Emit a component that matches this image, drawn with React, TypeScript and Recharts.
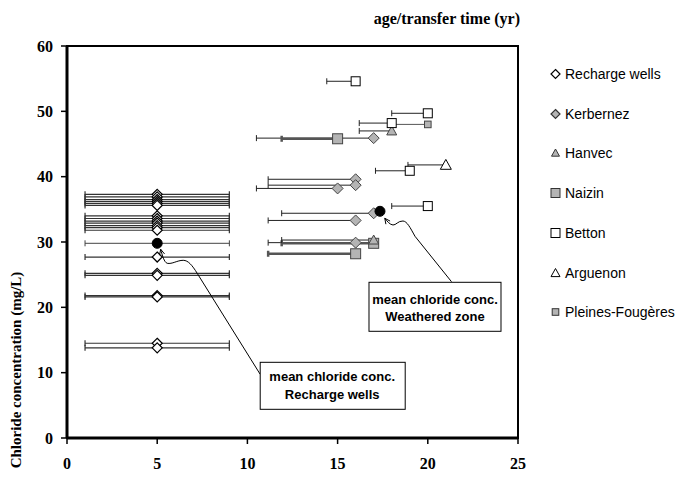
import React from "react";
import {
  ScatterChart,
  Scatter,
  XAxis,
  YAxis,
  ErrorBar,
  ReferenceArea,
  ReferenceDot,
  Label,
} from "recharts";

// values: x = age/transfer time (yr), y = chloride (mg/L)
const rechargeAge = 5;
const rechargeAgeRange = [1, 9];
const rechargeCl = [37.3, 36.9, 36.5, 36.2, 35.9, 35.6, 34.0, 33.6, 33.2, 32.9, 32.5, 32.2, 31.8, 27.7, 25.2, 24.9, 21.8, 21.6, 14.5, 13.8];

const kerbernezAge = [17, 16, 16, 15, 17, 16, 16];
const kerbernezAgeMin = [10.5, 11.15, 11.15, 10.5, 11.9, 11.15, 11.15];
const kerbernezCl = [45.9, 39.6, 38.7, 38.2, 34.4, 33.3, 29.9];

const hanvecAge = [18, 17];
const hanvecAgeMin = [16.2, 11.9];
const hanvecCl = [47.0, 30.3];

const naizinAge = [15, 17, 16];
const naizinAgeMin = [11.9, 11.9, 11.15];
const naizinCl = [45.8, 29.8, 28.2];

const bettonAge = [16, 20, 18, 19, 20];
const bettonAgeMin = [14.4, 18, 16.2, 17.1, 18];
const bettonCl = [54.6, 49.7, 48.2, 40.9, 35.5];

const arguenonAge = [21];
const arguenonAgeMin = [18.9];
const arguenonCl = [41.8];

const pleinesAge = [20];
const pleinesAgeMin = [18];
const pleinesCl = [48.0];

const rechargeMeanAge = 5;
const rechargeMeanCl = 29.8;
const weatheredMeanAge = 17.35;
const weatheredMeanCl = 34.7;

const xTicks = [0, 5, 10, 15, 20, 25];
const yTicks = [0, 10, 20, 30, 40, 50, 60];

// transfer time bars only go back from the point (one sided)
const rows = (age: number[], cl: number[], ageMin: number[]) =>
  age.map((x, i) => ({ x, y: cl[i], err: [x - ageMin[i], 0] }));

const rechargeRows = rechargeCl.map((y) => ({
  x: rechargeAge,
  y,
  err: [rechargeAge - rechargeAgeRange[0], rechargeAgeRange[1] - rechargeAge],
}));
const rechargeMeanRows = [
  {
    x: rechargeMeanAge,
    y: rechargeMeanCl,
    err: [rechargeMeanAge - rechargeAgeRange[0], rechargeAgeRange[1] - rechargeMeanAge],
  },
];
const weatheredMeanRows = [{ x: weatheredMeanAge, y: weatheredMeanCl }];

const GREY = "#b4b4b4";
const serif = "'Liberation Serif', 'Times New Roman', serif";
const sans = "'Liberation Sans', Arial, sans-serif";

const marker = (kind: string, r: number, fill: string, stroke = "#000", sw = 1) => (p: any) => {
  const { cx, cy } = p;
  if (cx == null || cy == null) return <g />;
  if (kind === "diamond")
    return (
      <path
        d={`M${cx},${cy - r}L${cx + r},${cy}L${cx},${cy + r}L${cx - r},${cy}Z`}
        fill={fill}
        stroke={stroke}
        strokeWidth={sw}
      />
    );
  if (kind === "square")
    return <rect x={cx - r} y={cy - r} width={2 * r} height={2 * r} fill={fill} stroke={stroke} strokeWidth={sw} />;
  if (kind === "triangle")
    return (
      <path
        d={`M${cx},${cy - r}L${cx + r},${cy + r * 0.8}L${cx - r},${cy + r * 0.8}Z`}
        fill={fill}
        stroke={stroke}
        strokeWidth={sw}
      />
    );
  return <circle cx={cx} cy={cy} r={r} fill={fill} stroke={stroke} strokeWidth={sw} />;
};

const rechargeShape = marker("diamond", 5, "#fff", "#000", 1.2);
const kerbernezShape = marker("diamond", 5.5, GREY, "#444", 1);
const hanvecShape = marker("triangle", 5, GREY, "#444", 1);
const naizinShape = marker("square", 5, GREY, "#444", 1);
const bettonShape = marker("square", 4.5, "#fff", "#000", 1);
const arguenonShape = marker("triangle", 5.5, "#fff", "#000", 1);
const pleinesShape = marker("square", 3.3, GREY, "#444", 1);
const meanShape = marker("circle", 5, "#000", "#000", 1);

const legendItems = [
  { name: "Recharge wells", shape: marker("diamond", 4.5, "#fff", "#000", 1.2) },
  { name: "Kerbernez", shape: marker("diamond", 4.5, GREY, "#333", 1.2) },
  { name: "Hanvec", shape: marker("triangle", 4, GREY, "#333", 1) },
  { name: "Naizin", shape: marker("square", 4.5, GREY, "#333", 1) },
  { name: "Betton", shape: marker("square", 4.5, "#fff", "#000", 1) },
  { name: "Arguenon", shape: marker("triangle", 4.5, "#fff", "#000", 1) },
  { name: "Pleines-Fougères", shape: marker("square", 3.3, GREY, "#333", 1) },
];

const arrowHead = (tx: number, ty: number, dx: number, dy: number) => {
  const len = Math.hypot(dx, dy);
  const ux = dx / len;
  const uy = dy / len;
  const a = 0.45;
  const l = 6;
  const b1x = tx - l * (ux * Math.cos(a) - uy * Math.sin(a));
  const b1y = ty - l * (ux * Math.sin(a) + uy * Math.cos(a));
  const b2x = tx - l * (ux * Math.cos(-a) - uy * Math.sin(-a));
  const b2y = ty - l * (ux * Math.sin(-a) + uy * Math.cos(-a));
  return `M${b1x},${b1y}L${tx},${ty}L${b2x},${b2y}`;
};

const noteText = { fontFamily: sans, fontWeight: 700, fontSize: 13, fill: "#000" } as const;

const RechargeNote = (p: any) => {
  const { cx, cy } = p;
  if (cx == null) return <g />;
  return (
    <g>
      <path
        d={`M${cx + 103},${cy + 131}L${cx + 40},${cy + 30}C${cx + 35},${cy + 22} ${cx + 31},${cy + 17} ${cx + 26},${cy + 17}C${cx + 20},${cy + 17} ${cx + 15},${cy + 21} ${cx + 10},${cy + 20}C${cx + 7},${cy + 19} ${cx + 5},${cy + 12} ${cx + 3.5},${cy + 6}`}
        fill="none"
        stroke="#000"
        strokeWidth={1}
      />
      <path d={arrowHead(cx + 3.5, cy + 6, -1, -4)} fill="none" stroke="#000" strokeWidth={1} />
      <rect x={cx + 103} y={cy + 119} width={145} height={47} fill="#fff" stroke="#000" strokeWidth={1} />
      <text x={cx + 175} y={cy + 138} textAnchor="middle" {...noteText}>
        mean chloride conc.
      </text>
      <text x={cx + 175} y={cy + 156} textAnchor="middle" {...noteText}>
        Recharge wells
      </text>
    </g>
  );
};

const WeatheredNote = (p: any) => {
  const { cx, cy } = p;
  if (cx == null) return <g />;
  return (
    <g>
      <path
        d={`M${cx + 71.5},${cy + 70.4}L${cx + 35},${cy + 25}C${cx + 30},${cy + 16} ${cx + 27},${cy + 10} ${cx + 23},${cy + 9.7}C${cx + 18},${cy + 9.5} ${cx + 16},${cy + 14} ${cx + 13},${cy + 13.7}C${cx + 10},${cy + 13.4} ${cx + 7},${cy + 10} ${cx + 4.8},${cy + 7}`}
        fill="none"
        stroke="#000"
        strokeWidth={1}
      />
      <path d={arrowHead(cx + 4.8, cy + 7, -2.2, -3)} fill="none" stroke="#000" strokeWidth={1} />
      <rect x={cx - 11} y={cy + 71} width={132} height={49} fill="#fff" stroke="#000" strokeWidth={1} />
      <text x={cx + 55} y={cy + 93} textAnchor="middle" {...noteText}>
        mean chloride conc.
      </text>
      <text x={cx + 55} y={cy + 110} textAnchor="middle" {...noteText}>
        Weathered zone
      </text>
    </g>
  );
};

const YTitle = () => (
  <text
    x={21}
    y={370}
    transform="rotate(-90 21 370)"
    textAnchor="middle"
    fontFamily={serif}
    fontWeight={700}
    fontSize={15}
    fill="#000"
  >
    Chloride concentration (mg/L)
  </text>
);

const tickStyle = { fontFamily: serif, fontWeight: 700, fontSize: 16, fill: "#000" };

export default function App() {
  return (
    <div style={{ position: "absolute", left: 0, top: 0, width: 680, height: 477, background: "#fff", overflow: "hidden" }}>
      <div
        style={{
          position: "absolute",
          left: 0,
          top: 11,
          width: 520,
          textAlign: "right",
          fontFamily: serif,
          fontWeight: 700,
          fontSize: 16,
          lineHeight: "16px",
          color: "#000",
        }}
      >
        age/transfer time (yr)
      </div>

      <ScatterChart width={680} height={477} margin={{ top: 46, right: 162, bottom: 4, left: 0 }}>
        <ReferenceArea x1={0} x2={25} y1={0} y2={60} fill="none" stroke="#000" strokeWidth={2} />
        <XAxis
          type="number"
          dataKey="x"
          domain={[0, 25]}
          ticks={xTicks}
          height={35}
          tickSize={6}
          tickMargin={14}
          axisLine={{ stroke: "#000", strokeWidth: 3 }}
          tickLine={{ stroke: "#000", strokeWidth: 1.5 }}
          tick={tickStyle}
          allowDataOverflow
        />
        <YAxis
          type="number"
          dataKey="y"
          domain={[0, 60]}
          ticks={yTicks}
          width={67}
          tickSize={6}
          tickMargin={8}
          axisLine={{ stroke: "#000", strokeWidth: 3 }}
          tickLine={{ stroke: "#000", strokeWidth: 1.5 }}
          tick={tickStyle}
          allowDataOverflow
        >
          <Label content={YTitle} />
        </YAxis>

        <Scatter name="Recharge wells" data={rechargeRows} shape={rechargeShape} isAnimationActive={false}>
          <ErrorBar dataKey="err" direction="x" width={3} stroke="#333" strokeWidth={1.2} />
        </Scatter>
        <Scatter name="Kerbernez" data={rows(kerbernezAge, kerbernezCl, kerbernezAgeMin)} shape={kerbernezShape} isAnimationActive={false}>
          <ErrorBar dataKey="err" direction="x" width={3} stroke="#222" strokeWidth={1} />
        </Scatter>
        <Scatter name="Naizin" data={rows(naizinAge, naizinCl, naizinAgeMin)} shape={naizinShape} isAnimationActive={false}>
          <ErrorBar dataKey="err" direction="x" width={3} stroke="#555" strokeWidth={2.5} />
        </Scatter>
        <Scatter name="Hanvec" data={rows(hanvecAge, hanvecCl, hanvecAgeMin)} shape={hanvecShape} isAnimationActive={false}>
          <ErrorBar dataKey="err" direction="x" width={3} stroke="#222" strokeWidth={1} />
        </Scatter>
        <Scatter name="Betton" data={rows(bettonAge, bettonCl, bettonAgeMin)} shape={bettonShape} isAnimationActive={false}>
          <ErrorBar dataKey="err" direction="x" width={3} stroke="#222" strokeWidth={1} />
        </Scatter>
        <Scatter name="Arguenon" data={rows(arguenonAge, arguenonCl, arguenonAgeMin)} shape={arguenonShape} isAnimationActive={false}>
          <ErrorBar dataKey="err" direction="x" width={3} stroke="#222" strokeWidth={1} />
        </Scatter>
        <Scatter name="Pleines-Fougères" data={rows(pleinesAge, pleinesCl, pleinesAgeMin)} shape={pleinesShape} isAnimationActive={false}>
          <ErrorBar dataKey="err" direction="x" width={3} stroke="#555" strokeWidth={1} />
        </Scatter>
        <Scatter name="mean recharge" data={rechargeMeanRows} shape={meanShape} isAnimationActive={false}>
          <ErrorBar dataKey="err" direction="x" width={3} stroke="#444" strokeWidth={1} />
        </Scatter>
        <Scatter name="mean weathered" data={weatheredMeanRows} shape={meanShape} isAnimationActive={false} />

        <ReferenceDot x={rechargeMeanAge} y={rechargeMeanCl} shape={RechargeNote} />
        <ReferenceDot x={weatheredMeanAge} y={weatheredMeanCl} shape={WeatheredNote} />
      </ScatterChart>

      {legendItems.map((item, i) => (
        <div
          key={item.name}
          style={{
            position: "absolute",
            left: 549,
            top: 64 + i * 39.7,
            height: 20,
            display: "flex",
            alignItems: "center",
            fontFamily: sans,
            fontSize: 14,
            color: "#000",
            whiteSpace: "nowrap",
          }}
        >
          <svg width={13} height={20} style={{ display: "block", marginRight: 3 }}>
            {item.shape({ cx: 6.5, cy: 10 })}
          </svg>
          {item.name}
        </div>
      ))}
    </div>
  );
}
